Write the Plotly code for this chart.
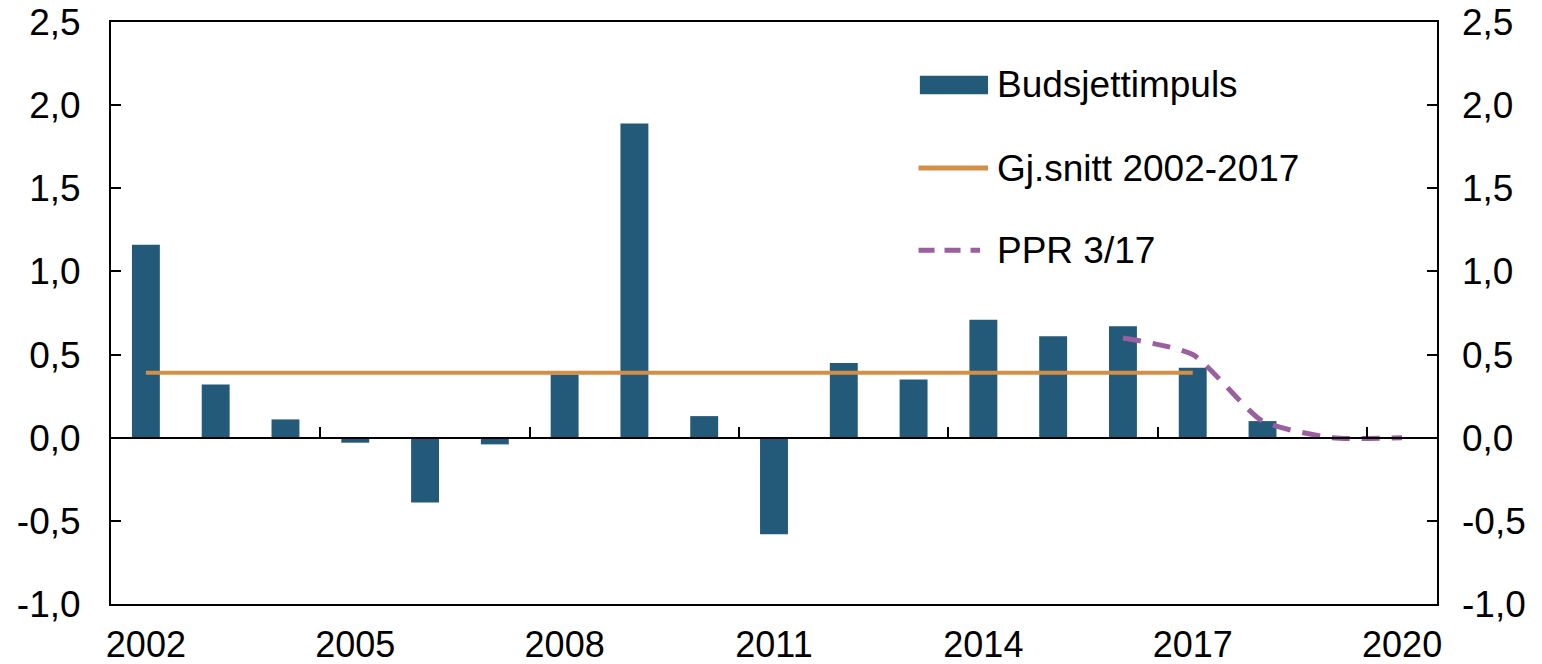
import plotly.graph_objects as go

bar_years = list(range(2002, 2019))
budsjettimpuls = [1.16, 0.32, 0.11, -0.03, -0.39, -0.04, 0.38, 1.89, 0.13, -0.58,
                  0.45, 0.35, 0.71, 0.61, 0.67, 0.42, 0.10]
avg_years = [2002, 2017]
avg_value = [0.39, 0.39]
ppr_years = [2016, 2017, 2018, 2019, 2020]
ppr_values = [0.60, 0.50, 0.10, 0.0, 0.0]
x_ticks = [2002, 2005, 2008, 2011, 2014, 2017, 2020]
y_ticks = [-1.0, -0.5, 0.0, 0.5, 1.0, 1.5, 2.0, 2.5]
y_ticktext = ["-1,0", "-0,5", "0,0", "0,5", "1,0", "1,5", "2,0", "2,5"]
legend_names = ["Budsjettimpuls", "Gj.snitt 2002-2017", "PPR 3/17"]

FONT = "Liberation Sans, Arial, sans-serif"
FS = 37
BAR = "#235a7a"
ORANGE = "#d38f45"
PURPLE = "#9b5fa0"

fig = go.Figure()
fig.add_trace(go.Bar(x=bar_years, y=budsjettimpuls, name=legend_names[0],
                     marker=dict(color=BAR, line=dict(width=0)), width=0.4,
                     xaxis="x", yaxis="y"))
fig.add_trace(go.Scatter(x=avg_years, y=avg_value, mode="lines", name=legend_names[1],
                         line=dict(color=ORANGE, width=4), xaxis="x2", yaxis="y"))
fig.add_trace(go.Scatter(x=ppr_years, y=ppr_values, mode="lines", name=legend_names[2],
                         line=dict(color=PURPLE, width=5, dash="18px,12px", shape="spline",
                                   smoothing=0.6), xaxis="x", yaxis="y2"))

# Legend (custom, wide keys as in the reference)
lx0, lx1, ltx = 0.609, 0.6614, 0.6667
ly = [0.8918, 0.749, 0.608]
shapes = [
    dict(type="rect", xref="paper", yref="paper", x0=lx0 + 0.001, x1=lx1, y0=ly[0] - 0.016,
         y1=ly[0] + 0.016, fillcolor=BAR, line=dict(width=0)),
    dict(type="line", xref="paper", yref="paper", x0=lx0, x1=lx1, y0=ly[1], y1=ly[1],
         line=dict(color=ORANGE, width=5)),
    dict(type="line", xref="paper", yref="paper", x0=lx0, x1=lx1 - 0.006, y0=ly[2], y1=ly[2],
         line=dict(color=PURPLE, width=5, dash="16px,10px")),
]
annotations = [
    dict(xref="paper", yref="paper", x=ltx, y=yy, text=t, showarrow=False,
         xanchor="left", yanchor="middle", font=dict(size=FS, color="black"))
    for t, yy in zip(legend_names, ly)
]

xr = [2001.5, 2020.5]
yr = [-1.0, 2.5]
fig.update_layout(
    width=1542, height=664,
    margin=dict(l=111, r=105, t=22, b=60),
    paper_bgcolor="white", plot_bgcolor="white",
    font=dict(family=FONT, size=FS, color="black"),
    separators=", ",
    showlegend=False,
    shapes=shapes,
    annotations=annotations,
    xaxis=dict(range=xr, tickvals=x_ticks, ticks="", showline=True, linecolor="black",
               linewidth=2, mirror=True, showgrid=False, zeroline=False,
               ticklabelstandoff=8, tickfont=dict(size=36), automargin=False),
    xaxis2=dict(range=xr, overlaying="x", anchor="free", position=1/3.5, side="bottom",
                tickvals=[2004.5, 2007.5, 2010.5, 2013.5, 2016.5, 2019.5],
                ticks="inside", ticklen=10, tickwidth=2, tickcolor="black",
                showticklabels=False, showline=True, linecolor="black", linewidth=2,
                showgrid=False, zeroline=False, automargin=False),
    yaxis=dict(range=yr, tickvals=y_ticks, ticktext=y_ticktext, ticks="inside", ticklen=10,
               tickwidth=2, tickcolor="black", showline=True, linecolor="black",
               linewidth=2, mirror=True, showgrid=False, zeroline=False,
               ticklabelstandoff=21, automargin=False),
    yaxis2=dict(range=yr, overlaying="y", side="right", anchor="x", tickvals=y_ticks,
                ticktext=y_ticktext, ticks="inside", ticklen=10, tickwidth=2,
                tickcolor="black", showline=False, showgrid=False, zeroline=False,
                ticklabelstandoff=24, automargin=False),
)
fig.write_html("out.html", config={"displayModeBar": False},
               post_script="document.body.style.margin='0';document.body.style.overflow='hidden';")
